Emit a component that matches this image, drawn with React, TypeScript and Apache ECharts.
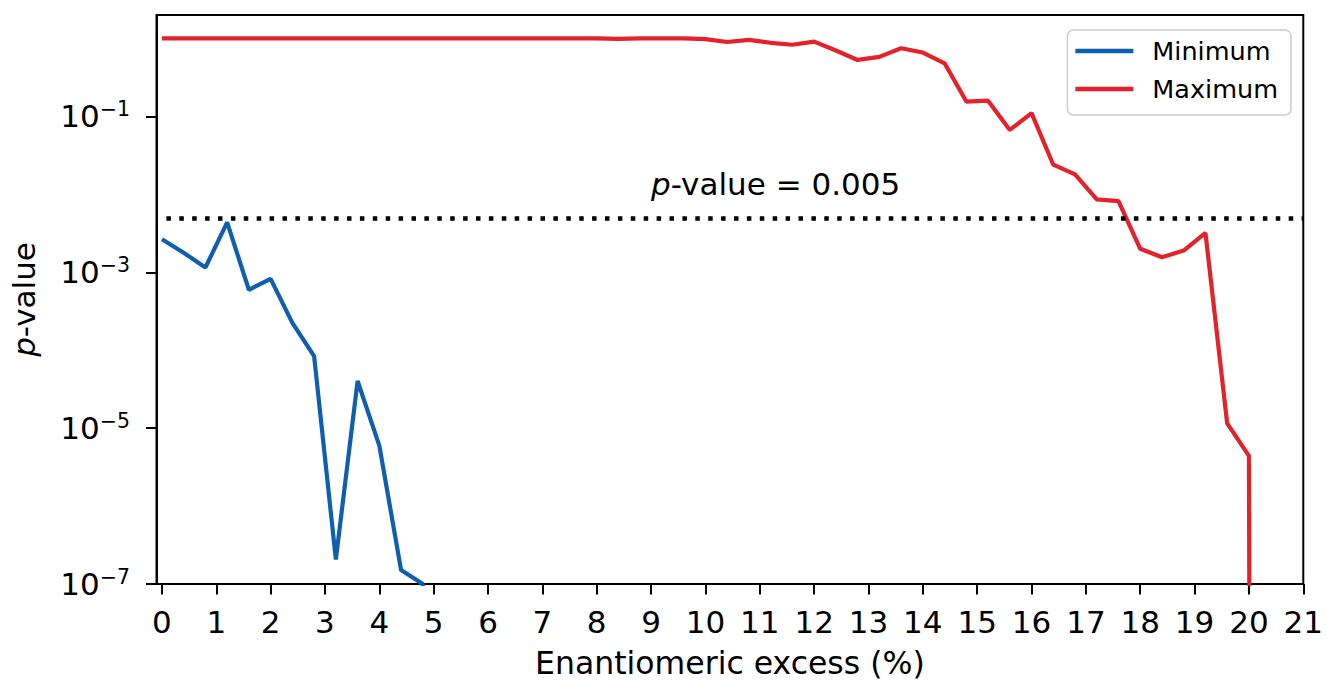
import React, { useEffect, useRef } from "react";
import * as echarts from "echarts";

const FONT = "DejaVu Sans";

const xValues = [
  0, 0.4, 0.8, 1.2, 1.6, 2.0, 2.4, 2.8, 3.2, 3.6, 4.0, 4.4, 4.8, 5.2, 5.6, 6.0,
  6.4, 6.8, 7.2, 7.6, 8.0, 8.4, 8.8, 9.2, 9.6, 10.0, 10.4, 10.8, 11.2, 11.6,
  12.0, 12.4, 12.8, 13.2, 13.6, 14.0, 14.4, 14.8, 15.2, 15.6, 16.0, 16.4, 16.8,
  17.2, 17.6, 18.0, 18.4, 18.8, 19.2, 19.6, 20.0, 20.4,
];

// p-values; 1e-100 stands for a p-value of zero (drawn off the bottom of the log axis)
const minimumValues = [
  2.65e-3, 1.78e-3, 1.15e-3, 4.36e-3, 5.96e-4, 8.24e-4, 2.24e-4, 8.4e-5,
  2.06e-7, 4.03e-5, 5.96e-6, 1.51e-7, 1.0e-7, 1e-100,
];

const maximumValues = [
  1.0, 1.0, 1.0, 1.0, 1.0, 1.0, 1.0, 1.0, 1.0, 1.0, 1.0, 1.0, 1.0, 1.0, 1.0,
  1.0, 1.0, 1.0, 1.0, 1.0, 1.0, 0.99, 1.0, 1.0, 1.0, 0.98, 0.9, 0.96, 0.88,
  0.83, 0.91, 0.7, 0.53, 0.58, 0.75, 0.66, 0.48, 0.155, 0.159, 0.067, 0.11,
  0.024, 0.018, 0.0086, 0.0082, 0.002, 0.00156, 0.0019, 0.0032, 1.15e-5,
  4.4e-6, 1e-100,
];

const xTicks = [0, 1, 2, 3, 4, 5, 6, 7, 8, 9, 10, 11, 12, 13, 14, 15, 16, 17, 18, 19, 20, 21];
const yTicks = [1e-7, 1e-5, 1e-3, 1e-1];

const threshold = 0.005;
const thresholdTextPos = [9, 0.01];

const BLUE = "#0e60ae";
const RED = "#e6212a";

export default function App() {
  const ref = useRef<HTMLDivElement>(null);

  useEffect(() => {
    const chart = echarts.init(ref.current!, null, { renderer: "svg" });

    const minData = minimumValues.map((v, i) => [xValues[i], v]);
    const maxData = maximumValues.map((v, i) => [xValues[i], v]);

    const option: any = {
      animation: false,
      backgroundColor: "#ffffff",
      textStyle: { fontFamily: FONT },
      grid: {
        left: 156.5,
        right: 22,
        top: 15,
        bottom: 97.3,
        show: true,
        borderColor: "#000",
        borderWidth: 2,
        containLabel: false,
      },
      legend: {
        orient: "vertical",
        right: 35,
        top: 30,
        icon: "rect",
        itemWidth: 58,
        itemHeight: 4.5,
        itemGap: 12,
        padding: [8, 13, 13, 8],
        borderColor: "#cccccc",
        borderWidth: 1.5,
        borderRadius: 6,
        backgroundColor: "rgba(255,255,255,0.8)",
        textStyle: {
          fontSize: 25.5,
          fontFamily: FONT,
          color: "#000",
          padding: [0, 0, 0, 14],
        },
        data: ["Minimum", "Maximum"],
      },
      xAxis: {
        type: "value",
        min: -0.1,
        max: 21,
        name: "Enantiomeric excess (%)",
        nameLocation: "middle",
        nameGap: 63,
        nameTextStyle: { fontSize: 31.5, fontFamily: FONT, color: "#000" },
        axisLine: { show: true, onZero: false, lineStyle: { color: "#000", width: 2 } },
        axisTick: {
          show: true,
          inside: false,
          length: 10.5,
          customValues: xTicks,
          lineStyle: { color: "#000", width: 2 },
        },
        axisLabel: {
          show: true,
          margin: 22,
          fontSize: 31,
          lineHeight: 31,
          fontFamily: FONT,
          color: "#000",
          customValues: xTicks,
          formatter: (v: number) => String(v),
        },
        splitLine: { show: false },
      },
      yAxis: {
        type: "log",
        logBase: 10,
        min: 1e-7,
        max: 2,
        interval: 2,
        name: "{i|p}-value",
        nameLocation: "middle",
        nameGap: 117,
        nameTextStyle: {
          fontSize: 31,
          fontFamily: FONT,
          color: "#000",
          rich: {
            i: { fontSize: 31, fontFamily: FONT, fontStyle: "italic", color: "#000" },
          },
        },
        axisLine: { show: true, onZero: false, lineStyle: { color: "#000", width: 2 } },
        axisTick: {
          show: true,
          inside: false,
          length: 10.5,
          customValues: yTicks,
          lineStyle: { color: "#000", width: 2 },
        },
        minorTick: { show: false },
        axisLabel: {
          show: true,
          margin: 26.5,
          customValues: yTicks,
          formatter: (v: number) => {
            const n = Math.round(Math.log10(v));
            return `{b|10}{s|${n < 0 ? "\u2212" : ""}${Math.abs(n)}}`;
          },
          rich: {
            b: { fontSize: 31, lineHeight: 36, fontFamily: FONT, color: "#000" },
            s: {
              fontSize: 20.5,
              lineHeight: 20,
              verticalAlign: "top",
              fontFamily: FONT,
              color: "#000",
            },
          },
        },
        splitLine: { show: false },
      },
      series: [
        {
          name: "Minimum",
          type: "line",
          data: minData,
          showSymbol: false,
          symbol: "none",
          clip: true,
          color: BLUE,
          itemStyle: { color: BLUE },
          lineStyle: { color: BLUE, width: 4.2 },
          z: 2,
        },
        {
          name: "Maximum",
          type: "line",
          data: maxData,
          showSymbol: false,
          symbol: "none",
          clip: true,
          color: RED,
          itemStyle: { color: RED },
          lineStyle: { color: RED, width: 4.2 },
          z: 3,
          markLine: {
            silent: true,
            precision: 6,
            symbol: ["none", "none"],
            label: { show: false },
            lineStyle: {
              color: "#000",
              width: 4.5,
              type: [4.5, 8.4],
              dashOffset: 2.5,
              cap: "butt",
            },
            data: [{ yAxis: threshold }],
          },
        },
      ],
    };

    chart.setOption(option);

    const p = chart.convertToPixel({ gridIndex: 0 } as any, thresholdTextPos) as number[];
    chart.setOption({
      graphic: [
        {
          type: "text",
          x: p[0],
          y: p[1] - 10.7,
          z: 10,
          style: {
            text: "{i|p}-value = 0.005",
            fill: "#000",
            fontSize: 31,
            fontFamily: FONT,
            align: "left",
            verticalAlign: "middle",
            rich: {
              i: { fontSize: 31, fontFamily: FONT, fontStyle: "italic", fill: "#000" },
            },
          },
        },
      ],
    });

    return () => chart.dispose();
  }, []);

  return (
    <div
      ref={ref}
      style={{ position: "absolute", left: 0, top: 0, width: 1326, height: 684 }}
    />
  );
}
